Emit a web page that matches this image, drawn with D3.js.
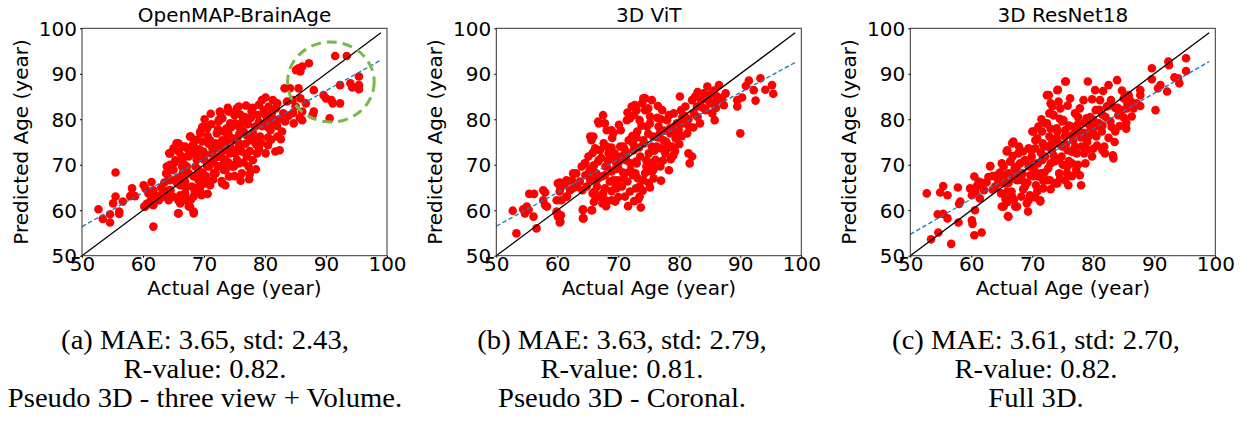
<html>
<head>
<script src="https://cdn.jsdelivr.net/npm/d3@7"></script>
<style>
  body { margin: 0; background: #fff; }
</style>
</head>
<body>
<svg id="chart" width="1245" height="421"></svg>
<script>
// ---- data ----
const titles = ["OpenMAP-BrainAge", "3D ViT", "3D ResNet18"]
const xTicks = [50, 60, 70, 80, 90, 100]
const yTicks = [50, 60, 70, 80, 90, 100]
const xLabel = "Actual Age (year)"
const yLabel = "Predicted Age (year)"

// identity line and the fitted (dashed) lines, as [actual, predicted]
const identityLine = [[50, 50], [99, 99]]
const fitA = [[50, 56.4], [99, 93.0]]
const fitB = [[50, 56.5], [99, 92.5]]
const fitC = [[50, 54.7], [99, 92.7]]

// ring drawn round the old subjects in panel (a), in data units
const ringA = { cx: 90.8, cy: 88.2, rx: 7.1, ry: 8.8 }

const captionA = ["(a) MAE: 3.65, std: 2.43,", "R-value: 0.82.", "Pseudo 3D - three view + Volume."]
const captionB = ["(b) MAE: 3.63, std: 2.79,", "R-value: 0.81.", "Pseudo 3D - Coronal."]
const captionC = ["(c) MAE: 3.61, std: 2.70,", "R-value: 0.82.", "Full 3D."]

// [actual age, predicted age]
const pointsA = [
  [52.7,60.2],[53.4,58.1],[54.6,59.1],[54.6,57.3],[55.1,61.5],[55.5,68.3],[55.5,63.0],[56.1,59.7],[56.1,59.2],[56.7,61.9],
  [57.9,63.1],[58.2,64.8],[58.7,63.1],[60.1,65.5],[60.4,64.8],[60.2,60.8],[60.6,61.4],[60.9,63.7],[61.4,66.2],[61.7,56.4],
  [61.7,64.4],[61.3,62.2],[62.3,62.2],[62.7,63.1],[63.2,63.9],[63.5,66.1],[63.8,68.1],[64.2,62.2],[64.4,62.9],[64.2,64.4],
  [64.4,66.6],[64.3,72.5],[64.4,70.0],[65.0,73.6],[65.0,68.9],[65.5,74.7],[65.8,59.3],[65.8,62.2],[66.1,61.5],[66.1,65.5],
  [66.4,71.1],[66.5,68.1],[66.6,74.0],[66.9,63.7],[67.2,69.6],[67.5,71.8],[67.7,76.2],[67.7,60.8],[68.0,74.0],[68.3,67.4],
  [68.3,59.3],[68.5,64.1],[68.8,71.1],[69.1,68.9],[69.4,76.9],[69.4,65.2],[69.6,63.3],[69.9,66.6],[70.2,72.2],[70.4,78.4],
  [70.5,69.6],[70.7,74.7],[70.9,66.0],[71.3,70.7],[71.6,68.1],[71.9,73.6],[72.1,76.9],[72.4,79.8],[72.6,81.7],[72.6,71.8],
  [72.9,66.4],[73.2,68.9],[73.5,75.1],[73.7,78.0],[74.2,81.7],[74.3,72.5],[74.6,69.6],[74.8,75.4],[75.1,79.1],[75.4,71.1],
  [75.7,82.8],[75.9,74.0],[76.2,68.1],[76.5,77.3],[76.7,80.5],[77.0,71.8],[77.3,69.6],[77.6,75.4],[77.8,81.7],[78.4,78.4],
  [78.7,72.5],[79.0,79.4],[79.2,76.2],[79.5,84.2],[80.1,72.5],[80.1,84.8],[80.3,79.8],[80.6,82.8],[80.9,77.6],[81.1,81.3],
  [81.7,72.9],[82.0,83.5],[82.4,73.2],[82.8,77.3],[83.0,81.3],[83.3,79.5],[83.6,83.9],[83.2,86.8],[84.1,86.8],[84.7,79.1],
  [85.0,82.8],[85.1,90.8],[85.5,91.2],[85.8,90.5],[86.1,91.6],[85.5,86.8],[85.8,84.6],[86.1,81.7],[86.1,79.8],[86.7,83.5],
  [87.2,92.3],[88.0,86.4],[88.0,81.7],[87.8,80.9],[89.6,85.3],[90.0,84.6],[90.6,80.2],[90.9,84.2],[91.1,83.5],[91.5,93.9],
  [92.3,83.5],[92.3,87.5],[93.4,93.9],[94.0,87.9],[94.3,87.0],[95.4,89.4],[95.4,86.6],[95.4,87.5],[84.6,81.4],[85.7,80.3],
  [72.7,81.3],[74.0,81.7],[75.4,82.4],[72.4,79.5],[74.3,79.1],[75.7,78.4],[73.2,77.3],[69.4,77.3],[70.5,78.0],[67.8,76.2],
  [65.8,74.7],[66.9,74.0],[68.3,74.7],[69.7,75.1],[71.0,75.4],[71.9,74.7],[73.0,75.4],[74.6,75.8],[75.7,74.7],[64.5,72.5],
  [65.3,71.0],[66.4,71.8],[67.5,72.1],[68.9,71.8],[69.9,72.9],[71.3,72.5],[72.4,71.8],[73.8,73.2],[75.1,72.5],[63.9,69.6],
  [64.8,68.8],[66.4,69.6],[67.5,68.1],[68.6,69.6],[69.4,68.1],[70.8,69.6],[71.9,68.1],[73.5,68.8],[74.9,69.6],[75.7,70.3],
  [64.2,67.0],[65.6,65.9],[66.9,66.3],[68.0,65.2],[69.1,66.6],[70.2,65.9],[71.0,65.5],[73.0,65.9],[73.5,65.5],[64.5,64.4],
  [66.1,63.3],[66.9,62.2],[67.5,60.8],[68.3,63.0],[69.4,64.1],[63.4,63.0],[62.6,62.2],[61.7,61.1],[60.4,60.8],[60.9,61.5],
  [65.8,59.3],[68.3,59.7],[76.0,78.0],[77.0,76.5],[78.0,77.0],[79.5,78.5],[80.5,76.0],[81.5,79.0],[78.5,74.5],[77.5,73.0],
  [76.5,70.5],[79.0,73.5],[81.0,75.5],[82.0,78.5],[80.0,81.0],[76.0,81.0],[78.0,82.5],[74.0,77.0],[75.5,76.0],[73.0,73.0],
  [74.0,70.5],[76.0,66.5],[75.0,67.5],[77.5,68.0],[78.5,69.0],
  [65.2,70.5],[65.9,72.8],[66.7,70.2],[67.3,73.5],[68.1,72.6],[68.7,75.5],[69.2,73.4],[70.0,71.1],[70.6,76.3],[71.2,74.1],
  [71.8,71.5],[72.3,77.8],[73.0,80.2],[73.4,71.2],[73.9,76.4],[74.5,78.3],[75.0,80.9],[75.3,73.3],[75.8,76.8],[76.3,79.5],
  [76.8,74.6],[77.2,78.9],[77.7,80.3],[78.2,75.7],[78.8,80.9],[79.4,74.8],[79.8,82.1],[80.4,78.3],[81.3,80.1],[81.8,82.4],
  [82.3,80.0],[82.6,75.6],[66.0,67.2],[67.0,65.0],[67.9,62.4],[68.9,64.9],[69.8,68.2],[70.6,63.6],[71.5,66.7],[72.2,69.7],
  [73.3,70.4],[74.1,67.4],[63.0,65.0],[62.0,63.2],[64.9,63.0],[65.4,66.8],[70.1,80.0],[71.1,81.2],[73.9,82.5],[76.9,83.0],
  [79.0,83.2],[81.3,84.2],[77.4,66.8],[78.0,71.0],[80.5,74.3],[82.0,76.2],[83.9,80.8],[84.5,84.2],[70.3,67.5],[68.8,67.6],
  [67.2,67.9],[75.0,70.0],[76.2,72.9],[74.3,74.0],[72.8,74.1],[71.2,78.9],[69.7,78.3]
]

const pointsB = [
  [52.7,59.9],[53.3,54.9],[54.4,60.2],[54.7,59.3],[55.0,60.8],[55.3,60.1],[55.4,63.6],[56.2,63.6],[56.1,58.6],[56.6,56.0],
  [57.7,64.4],[58.0,63.9],[57.7,62.2],[58.0,61.1],[58.3,60.8],[59.9,62.2],[59.9,59.5],[60.4,66.1],[60.5,65.0],[60.6,58.9],
  [60.5,57.5],[60.7,62.2],[61.1,65.5],[61.6,66.3],[61.6,63.0],[62.1,64.4],[62.5,64.8],[63.1,68.1],[63.7,66.3],[64.0,69.6],
  [64.2,60.2],[64.2,58.2],[64.6,67.7],[64.6,70.3],[64.8,65.2],[65.1,71.8],[65.3,68.8],[65.4,76.2],[65.4,66.6],[65.7,60.0],
  [65.8,63.7],[66.0,69.9],[66.2,73.6],[66.4,68.1],[66.5,65.2],[66.8,79.1],[66.8,71.0],[67.0,63.0],[67.3,67.4],[67.5,80.9],
  [67.6,74.7],[67.9,62.2],[67.9,69.6],[68.1,77.6],[68.4,72.5],[68.6,66.3],[68.9,68.5],[68.9,64.2],[69.2,77.0],[69.3,71.1],
  [69.5,61.9],[69.8,66.6],[70.0,69.2],[70.3,74.0],[70.4,77.6],[70.6,65.2],[70.9,72.0],[71.1,68.1],[71.4,79.8],[71.5,66.3],
  [71.7,75.4],[72.0,70.3],[72.2,82.8],[72.5,73.2],[72.6,80.9],[72.8,68.1],[72.9,64.8],[73.1,77.3],[73.3,62.4],[73.5,65.2],
  [73.6,71.8],[73.9,83.5],[74.2,74.7],[74.4,84.6],[74.6,69.6],[74.7,78.4],[75.0,72.5],[75.2,80.6],[75.5,84.2],[75.7,76.2],
  [75.8,67.0],[76.1,71.1],[76.3,74.0],[76.6,78.4],[76.9,69.6],[77.2,82.0],[77.4,75.4],[77.7,72.5],[78.0,79.8],[78.3,68.8],
  [78.5,76.9],[78.8,74.0],[79.1,81.3],[79.4,75.8],[79.6,79.1],[80.1,85.0],[80.3,82.0],[80.6,79.1],[81.0,82.8],[81.3,76.9],
  [81.5,72.5],[81.7,70.3],[82.1,71.8],[82.1,84.2],[82.4,81.3],[82.6,85.0],[82.9,82.8],[83.4,79.1],[83.6,84.2],[84.0,85.7],
  [84.3,82.0],[84.6,87.2],[84.8,84.2],[85.4,81.3],[85.7,86.3],[85.8,79.8],[86.2,85.0],[86.5,87.5],[87.0,84.6],[87.3,83.1],
  [87.6,85.7],[89.5,84.2],[89.5,82.8],[90.0,76.9],[90.3,84.8],[90.9,87.3],[91.4,88.5],[92.2,86.4],[92.5,84.1],[93.3,89.0],
  [94.1,86.5],[95.2,87.5],[95.4,85.6],
  [74.1,84.6],[72.7,83.1],[74.4,82.0],[71.9,80.2],[73.5,79.8],[75.2,79.1],[66.7,79.5],[67.8,79.1],[68.9,77.6],[65.9,76.2],
  [65.6,75.4],[67.0,73.2],[68.1,74.0],[69.4,72.5],[70.8,74.0],[72.4,74.7],[74.1,75.4],[75.5,74.0],[64.5,70.3],[65.9,69.6],
  [66.7,70.7],[68.1,69.6],[69.7,70.3],[71.3,71.0],[73.0,70.3],[74.6,71.0],[75.7,68.8],[65.3,67.4],[66.7,67.0],[67.8,67.7],
  [69.2,66.6],[70.8,67.0],[72.4,67.7],[74.1,66.6],[66.1,64.1],[67.5,63.7],[68.9,62.2],[69.7,64.8],[71.1,63.0],[73.5,63.0],
  [62.6,68.1],[60.1,65.9],[61.5,66.6],[60.4,64.1],[61.5,63.0],[59.9,59.7],[60.1,58.6],[60.4,57.3],[64.2,60.0],[64.3,58.2],
  [65.6,60.0],[76.5,76.0],[77.5,77.5],[78.5,78.0],[79.5,77.0],[80.5,80.5],[81.5,80.0],[77.0,80.0],[78.0,73.5],[79.0,72.0],
  [76.0,69.5],[77.0,66.5],[75.0,66.0],[80.0,74.5],[83.0,86.0],[85.0,83.5],[86.0,84.0],[73.0,76.0],[71.0,73.5],[69.5,69.0],
  [65.8,72.6],[66.5,66.8],[67.2,71.5],[67.8,64.8],[68.3,70.9],[68.9,73.8],[69.6,65.5],[70.2,70.8],[70.8,68.3],[71.3,72.6],
  [71.9,64.1],[72.3,76.3],[72.9,70.7],[73.4,73.8],[73.8,78.6],[74.4,68.2],[74.9,76.8],[75.4,70.4],[75.9,73.1],[76.4,80.3],
  [76.8,76.9],[77.3,70.9],[77.9,75.0],[78.3,80.9],[78.9,78.2],[79.3,73.0],[79.9,77.7],[80.4,76.3],[80.9,80.7],[81.6,78.4],
  [82.3,78.2],[83.0,80.5],[83.8,82.6],[85.1,85.5],[86.0,82.5],[70.0,62.9],[71.6,60.9],[72.6,62.0],[74.0,64.3],[75.2,65.0],
  [73.7,60.6],[67.4,61.5],[66.0,61.8],[66.3,62.8],[68.0,60.9],[63.2,65.1],[62.4,66.6],[64.1,64.4],[69.0,75.9],[70.1,78.8],
  [71.5,81.5],[73.0,82.0],[74.9,82.4],[76.5,82.9],[70.5,71.8],[72.0,68.8],[73.2,67.0],[75.5,68.5],[77.0,73.6],[78.6,71.2]
]

const pointsC = [
  [52.7,63.7],[53.4,53.6],[54.5,59.1],[54.6,55.1],[54.9,63.9],[55.4,65.3],[55.4,59.2],[56.1,63.3],[56.1,58.2],[56.7,52.6],
  [57.8,65.0],[57.9,57.3],[58.0,61.4],[58.2,61.9],[59.8,64.8],[60.1,57.8],[60.2,57.0],[60.5,67.4],[60.5,54.5],[60.6,60.0],
  [60.7,63.9],[60.9,65.3],[61.2,66.3],[61.4,62.6],[61.6,66.1],[61.7,55.1],[62.1,64.4],[62.5,66.1],[63.1,69.7],[63.5,67.5],
  [63.9,65.2],[64.3,67.0],[64.7,68.3],[64.9,63.7],[65.0,60.8],[65.3,69.6],[65.5,65.9],[65.6,62.4],[65.8,72.9],[66.0,58.7],
  [66.1,68.1],[66.4,70.7],[66.6,64.1],[66.7,74.7],[67.1,69.2],[67.2,60.8],[67.5,66.6],[67.7,72.5],[67.8,74.0],[68.0,70.3],
  [68.2,63.0],[68.4,68.1],[68.5,72.9],[68.8,65.2],[69.1,61.5],[69.3,59.7],[69.4,69.6],[69.6,63.3],[69.9,71.8],[70.0,77.3],
  [70.2,67.5],[70.5,73.6],[70.6,65.5],[70.9,70.3],[71.0,78.4],[71.3,62.2],[71.4,68.1],[71.7,74.7],[71.8,64.8],[72.1,71.8],
  [72.2,79.1],[72.4,85.3],[72.6,69.2],[72.8,76.2],[72.9,66.6],[73.2,73.2],[73.3,82.8],[73.5,80.9],[73.6,70.7],[73.7,65.9],
  [74.0,78.0],[74.2,86.5],[74.3,74.7],[74.4,68.1],[74.6,82.4],[74.8,71.8],[75.1,79.8],[75.3,76.2],[75.5,88.3],[75.7,68.1],
  [75.8,73.2],[75.9,65.5],[76.2,84.6],[76.4,78.4],[76.5,70.3],[76.7,75.4],[77.0,81.3],[77.3,72.5],[77.6,77.6],[77.8,67.7],
  [78.0,65.5],[78.1,74.0],[78.4,84.2],[78.7,70.3],[78.9,80.2],[79.1,88.3],[79.2,76.2],[79.5,78.4],[79.8,71.8],[80.0,76.9],
  [80.3,86.4],[80.4,82.0],[80.6,74.2],[80.9,79.1],[81.1,84.2],[81.4,77.3],[81.5,73.2],[81.8,74.0],[81.9,72.5],[82.2,82.8],
  [82.5,87.5],[82.8,79.5],[82.9,84.2],[83.2,72.1],[83.3,71.4],[83.6,77.3],[83.9,88.6],[84.1,80.9],[84.7,82.0],[85.0,84.6],
  [85.3,78.7],[85.4,77.9],[85.5,82.4],[85.8,85.3],[86.0,84.2],[86.3,80.6],[87.1,83.5],[87.7,86.4],[87.7,85.3],[87.7,82.9],
  [89.6,91.2],[89.6,88.8],[90.2,82.0],[90.6,86.8],[91.0,87.5],[92.1,86.1],[92.3,92.7],[92.4,91.9],[93.3,89.2],[93.9,89.0],
  [94.1,87.9],[95.2,93.4],[95.2,90.6],
  [75.4,88.3],[74.1,86.4],[72.7,85.3],[74.3,83.9],[73.0,83.5],[73.5,80.9],[72.4,79.1],[74.9,79.5],[70.2,77.3],[71.6,77.3],
  [74.1,77.3],[75.4,77.6],[70.5,75.4],[66.9,75.1],[65.9,73.2],[68.0,73.2],[69.4,73.6],[71.9,74.0],[73.2,74.7],[74.9,74.0],
  [63.1,69.7],[65.0,70.3],[66.4,70.7],[67.5,69.6],[68.9,71.0],[70.2,70.3],[71.6,71.0],[73.0,70.3],[74.3,71.0],[75.7,69.6],
  [64.2,67.7],[65.6,67.7],[66.9,67.0],[68.3,66.6],[69.7,67.7],[71.0,67.4],[72.4,66.6],[74.1,65.9],[75.4,66.6],[61.5,65.5],
  [60.1,63.3],[65.9,64.1],[66.7,63.0],[65.3,60.8],[67.5,60.8],[69.4,62.2],[70.8,64.1],[71.3,61.9],[66.1,58.6],
  [76.5,76.5],[77.5,79.0],[78.5,77.0],[79.5,80.5],[80.5,78.5],[81.5,81.0],[82.5,83.0],[77.0,74.0],[78.5,72.5],[80.0,73.5],
  [76.5,67.5],[77.5,70.0],[84.0,82.5],[86.5,83.5],[83.5,75.0],[79.0,75.0],
  [64.4,65.9],[65.2,67.2],[66.1,66.0],[66.8,71.9],[67.4,68.0],[68.0,67.2],[68.7,70.9],[69.2,66.1],[69.8,73.2],[70.3,69.0],
  [70.8,75.8],[71.4,72.6],[72.0,68.3],[72.5,74.0],[73.0,77.9],[73.5,72.0],[74.0,75.9],[74.5,80.1],[75.0,70.0],[75.5,74.5],
  [76.0,78.6],[76.5,72.8],[77.0,77.0],[77.5,80.5],[78.0,76.0],[78.5,79.2],[79.0,73.3],[79.5,77.2],[80.0,79.9],[80.5,76.2],
  [81.0,82.1],[81.5,78.6],[82.0,80.5],[82.5,75.9],[83.0,78.3],[83.6,82.5],[84.3,78.5],[85.0,80.4],[85.6,83.4],[71.8,66.5],
  [73.0,64.6],[74.5,66.8],[76.0,70.8],[77.2,68.9],[70.5,62.8],[68.5,64.6],[67.0,62.3],[66.0,61.8],[63.5,64.5],[62.8,67.3],
  [72.8,81.3],[71.5,80.0],[75.8,83.0],[77.8,82.4],[79.8,84.4],[81.6,86.2],[84.7,86.3],[85.4,79.2],[86.6,82.4]
]

// ---- layout ----
const panels = [
  { title: titles[0], points: pointsA, fit: fitA, caption: captionA, ring: ringA },
  { title: titles[1], points: pointsB, fit: fitB, caption: captionB, ring: null },
  { title: titles[2], points: pointsC, fit: fitC, caption: captionC, ring: null }
]
const lefts = [82, 496.3, 910.3]
const captionCenters = [205, 622, 1036]
const plotTop = 28.3, w = 305, h = 227.4
const sans = "DejaVu Sans, sans-serif"

const svg = d3.select("#chart")

panels.forEach((p, i) => {
  const x = d3.scaleLinear().domain([50, 100]).range([0, w])
  const y = d3.scaleLinear().domain([50, 100]).range([h, 0])
  const g = svg.append("g").attr("transform", `translate(${lefts[i]},${plotTop})`)

  g.append("g").selectAll("circle")
    .data(p.points)
    .join("circle")
    .attr("cx", d => x(d[0]))
    .attr("cy", d => y(d[1]))
    .attr("r", 4.3)
    .attr("fill", "#ff0000")

  const line = d3.line().x(d => x(d[0])).y(d => y(d[1]))
  g.append("path").attr("d", line(identityLine))
    .attr("fill", "none").attr("stroke", "#000").attr("stroke-width", 1.3)
  g.append("path").attr("d", line(p.fit))
    .attr("fill", "none").attr("stroke", "#1f77b4").attr("stroke-width", 1.3)
    .attr("stroke-dasharray", "4.5,2.5")

  if (p.ring) {
    g.append("ellipse")
      .attr("cx", x(p.ring.cx)).attr("cy", y(p.ring.cy))
      .attr("rx", x(p.ring.cx + p.ring.rx) - x(p.ring.cx))
      .attr("ry", y(p.ring.cy) - y(p.ring.cy + p.ring.ry))
      .attr("fill", "none").attr("stroke", "#78b84a").attr("stroke-width", 3)
      .attr("stroke-dasharray", "10,6")
  }

  // box
  g.append("rect").attr("width", w).attr("height", h)
    .attr("fill", "none").attr("stroke", "#333").attr("stroke-width", 1)

  const xAxis = g.append("g").attr("transform", `translate(0,${h})`)
    .call(d3.axisBottom(x).tickValues(xTicks).tickSize(2))
  xAxis.select(".domain").remove()
  xAxis.selectAll("text").attr("y", 15).attr("dy", 0)
    .style("font-family", sans).style("font-size", "20px").attr("fill", "#000")

  const yAxis = g.append("g")
    .call(d3.axisLeft(y).tickValues(yTicks).tickSize(2))
  yAxis.select(".domain").remove()
  yAxis.selectAll("text").attr("x", -5).attr("dy", "0.36em")
    .style("font-family", sans).style("font-size", "20px").attr("fill", "#000")

  g.append("text").attr("x", w / 2).attr("y", 22 - plotTop)
    .attr("text-anchor", "middle")
    .style("font-family", sans).style("font-size", "20px")
    .text(p.title)

  g.append("text").attr("x", w / 2).attr("y", 295 - plotTop)
    .attr("text-anchor", "middle")
    .style("font-family", sans).style("font-size", "20px")
    .text(xLabel)

  g.append("text")
    .attr("transform", `translate(-54,${h / 2}) rotate(-90)`)
    .attr("text-anchor", "middle")
    .style("font-family", sans).style("font-size", "20px")
    .text(yLabel)

  const cap = svg.append("g").selectAll("text")
    .data(p.caption)
    .join("text")
    .attr("x", captionCenters[i])
    .attr("y", (d, k) => [349, 378, 407][k])
    .attr("text-anchor", "middle")
    .style("font-family", "Liberation Serif, serif").style("font-size", "27px")
    .text(d => d)
  cap.each(function () {
    const len = this.getComputedTextLength()
    d3.select(this).attr("textLength", len * 1.06).attr("lengthAdjust", "spacingAndGlyphs")
  })
})
</script>
</body>
</html>
